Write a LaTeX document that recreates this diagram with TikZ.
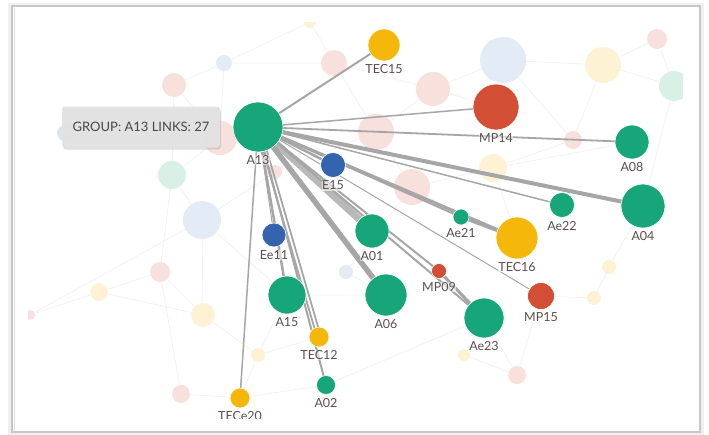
\documentclass[tikz,border=0pt]{standalone}
\usepackage{fontspec}
\setmainfont{Lato}
\usetikzlibrary{shadows}
\definecolor{cg}{HTML}{17A57A}
\definecolor{cy}{HTML}{F5B70A}
\definecolor{cr}{HTML}{D24F36}
\definecolor{cb}{HTML}{3464AD}
\definecolor{fp}{HTML}{F8E0DC}
\definecolor{fb}{HTML}{E3EBF6}
\definecolor{fy}{HTML}{FDF3D4}
\definecolor{fg}{HTML}{D8F0E6}
\definecolor{fgr}{HTML}{DFE3EC}
\definecolor{labc}{HTML}{5A4E4E}
\definecolor{edgec}{HTML}{A6A6A6}
\definecolor{faintc}{HTML}{F1F1F1}
\newcommand\gn[6]{\node[gnode,fill=#5,minimum size=#4pt,label={[glab]below:#6}] (#1) at (#2,#3) {};}
\newcommand\fn[5]{\node[fnode,fill=#5,minimum size=#4pt] (#1) at (#2,#3) {};}
\begin{document}
\begin{tikzpicture}[x=1pt,y=-1pt,
  gnode/.style={circle,inner sep=0pt,draw=white,line width=0.6pt},
  fnode/.style={circle,inner sep=0pt,draw=none},
  glab/.style={inner sep=0.5pt,label distance=2.5pt,text=labc,fill=white,fill opacity=0.55,text opacity=1,font=\fontsize{12.5}{14}\selectfont},
  edge/.style={draw=edgec,line cap=round},
  faint/.style={draw=faintc,line width=0.7pt}]
\useasboundingbox (0,0) rectangle (709,434);
\fill[white] (0,0) rectangle (709,434);
% frame
\draw[draw=black!6,line width=3pt] (9,4) rectangle (702,434);
\draw[draw=black!22,line width=1.4pt] (12,6) rectangle (700,432);
\draw[draw=black!12,line width=1pt] (14,7.5) -- (14,430.5);
\begin{scope}
\clip (28,22) rectangle (683,418);
% faded nodes
\fn{f1}{310}{22}{12}{fy}
\fn{f2}{334}{63}{26}{fp}
\fn{f3}{224}{63}{16}{fb}
\fn{f4}{174}{85}{24}{fp}
\fn{f5}{220}{138}{34}{fp}
\fn{f6}{65}{133}{16}{fgr}
\fn{f7}{172}{175}{28}{fg}
\fn{f8}{202}{220}{38}{fb}
\fn{f9}{275}{172}{14}{fp}
\fn{f10}{376}{132}{36}{fp}
\fn{f11}{433}{89}{34}{fp}
\fn{f12}{503}{60}{46}{fb}
\fn{f13}{603}{65}{36}{fy}
\fn{f14}{657}{39}{20}{fp}
\fn{f15}{674}{86}{30}{fg}
\fn{f16}{573}{140}{18}{fp}
\fn{f17}{493}{168}{28}{fy}
\fn{f18}{412}{187}{36}{fp}
\fn{f19}{346}{272}{14}{fb}
\fn{f20}{160}{272}{20}{fp}
\fn{f21}{99}{292}{18}{fy}
\fn{f22}{30}{315}{10}{fp}
\fn{f23}{203}{315}{24}{fy}
\fn{f24}{258}{355}{14}{fy}
\fn{f25}{181}{394}{18}{fp}
\fn{f26}{609}{267}{14}{fy}
\fn{f27}{594}{298}{14}{fy}
\fn{f28}{464}{355}{12}{fy}
\fn{f29}{517}{375}{18}{fp}
% main node coordinates (nodes drawn later)
\coordinate (pA13) at (258,127);
\coordinate (pTEC15) at (384,45);
\coordinate (pMP14) at (496,107);
\coordinate (pA08) at (632,142);
\coordinate (pA04) at (643,206);
\coordinate (pE15) at (333,165);
\coordinate (pAe22) at (562,205);
\coordinate (pAe21) at (461,217);
\coordinate (pTEC16) at (517,238);
\coordinate (pA01) at (372,231);
\coordinate (pEe11) at (274,235);
\coordinate (pMP09) at (439,271);
\coordinate (pMP15) at (541,296);
\coordinate (pA06) at (386,295);
\coordinate (pAe23) at (484,318);
\coordinate (pA15) at (287,295);
\coordinate (pTEC12) at (319,337);
\coordinate (pA02) at (326,385);
\coordinate (pTEC20) at (240,398);
% faint edges
\draw[faint] (f6) -- (f5) (f4) -- (f3) (f4) -- (f5) (f4) -- (f7) (f7) -- (f8)
  (f8) -- (f23) (f23) -- (f20) (f20) -- (f21) (f21) -- (f22) (f20) -- (f25)
  (f23) -- (f24) (f8) -- (pA15) (f2) -- (f1) (f2) -- (f11) (f11) -- (f12)
  (f12) -- (f13) (f13) -- (f14) (f14) -- (f15) (f13) -- (f16) (f16) -- (pA08)
  (f17) -- (f18) (f18) -- (f10) (f10) -- (f2) (f12) -- (pMP14) (f17) -- (pTEC16)
  (f26) -- (f27) (f27) -- (pMP15) (f28) -- (f29) (f29) -- (pAe23) (f29) -- (pMP15)
  (f25) -- (pTEC20) (pTEC20) -- (pA02) (f24) -- (pTEC20) (pA15) -- (f24)
  (f19) -- (pA06) (f3) -- (f5) (f5) -- (f7) (f3) -- (f2) (f7) -- (f20)
  (f10) -- (f11) (f11) -- (pMP14) (f18) -- (f19) (f17) -- (f16) (f13) -- (f15)
  (f26) -- (pA04) (pA04) -- (f15) (f28) -- (pAe23) (f24) -- (pTEC12)
  (pA02) -- (pAe23) (pA15) -- (pA06) (f8) -- (f9) (f9) -- (f10) (f18) -- (pAe21)
  (f17) -- (pA08) (f12) -- (f16) (f1) -- (f3) (f22) -- (f8) (f21) -- (f23);
% main edges
\draw[edge,line width=2pt] (pA13) -- (pTEC15);
\draw[edge,line width=1.5pt] (pA13) -- (pMP14);
\draw[edge,line width=1.8pt] (pA13) -- (pA08);
\draw[edge,line width=4pt] (pA13) -- (pA04);
\draw[edge,line width=1.5pt] (pA13) -- (pAe22);
\draw[edge,line width=2.5pt] (pA13) -- (pE15);
\draw[edge,line width=2pt] (pA13) -- (pAe21);
\draw[edge,line width=3pt] (pA13) -- (pTEC16);
\draw[edge,line width=3pt] (pAe21) -- (pTEC16);
\draw[edge,line width=1pt] (pA13) -- (pMP15);
\draw[edge,line width=7pt,draw=edgec!80] (pA13) -- (pA01);
\draw[edge,line width=2pt] (pA13) -- (pMP09);
\draw[edge,line width=2pt] (pA13) -- (pAe23);
\draw[edge,line width=3pt] (pMP09) -- (pAe23);
\draw[edge,line width=5.5pt] (pA13) -- (pA06);
\draw[edge,line width=1pt] (pA13) -- (pEe11);
\draw[edge,line width=2.5pt] (pA13) -- (pA15);
\draw[edge,line width=1.8pt] ([xshift=-2pt]pA13) -- ([xshift=-2pt]pTEC12);
\draw[edge,line width=1.8pt] ([xshift=2pt]pA13) -- ([xshift=2pt]pTEC12);
\draw[edge,line width=2pt] (pA13) -- (pA02);
\draw[edge,line width=1.5pt] (pA13) -- (pTEC20);
% main nodes
\gn{A13}{258}{127}{50}{cg}{A13}
\gn{TEC15}{384}{45}{32}{cy}{TEC15}
\gn{MP14}{496}{107}{46}{cr}{MP14}
\gn{A08}{632}{142}{34}{cg}{A08}
\gn{A04}{643}{206}{44}{cg}{A04}
\gn{E15}{333}{165}{25}{cb}{E15}
\gn{Ae22}{562}{205}{25}{cg}{Ae22}
\gn{Ae21}{461}{217}{16}{cg}{Ae21}
\gn{TEC16}{517}{238}{42}{cy}{TEC16}
\gn{A01}{372}{231}{34}{cg}{A01}
\gn{Ee11}{274}{235}{24}{cb}{Ee11}
\gn{MP09}{439}{271}{15}{cr}{MP09}
\gn{MP15}{541}{296}{27}{cr}{MP15}
\gn{A06}{386}{295}{42}{cg}{A06}
\gn{Ae23}{484}{318}{40}{cg}{Ae23}
\gn{A15}{287}{295}{38}{cg}{A15}
\gn{TEC12}{319}{337}{20}{cy}{TEC12}
\gn{A02}{326}{385}{19}{cg}{A02}
\gn{TEC20}{240}{398}{20}{cy}{TECe20}
% tooltip
\node[rounded corners=3pt,fill=black!11,fill opacity=0.92,text opacity=1,
  drop shadow={shadow xshift=1pt,shadow yshift=-2pt,opacity=0.25},
  minimum width=158pt,minimum height=41pt,inner sep=0pt,text=black!72,
  font=\fontsize{13}{15}\selectfont] (tip) at (141,127) {GROUP: A13 LINKS: 27};
\end{scope}
\end{tikzpicture}
\end{document}
